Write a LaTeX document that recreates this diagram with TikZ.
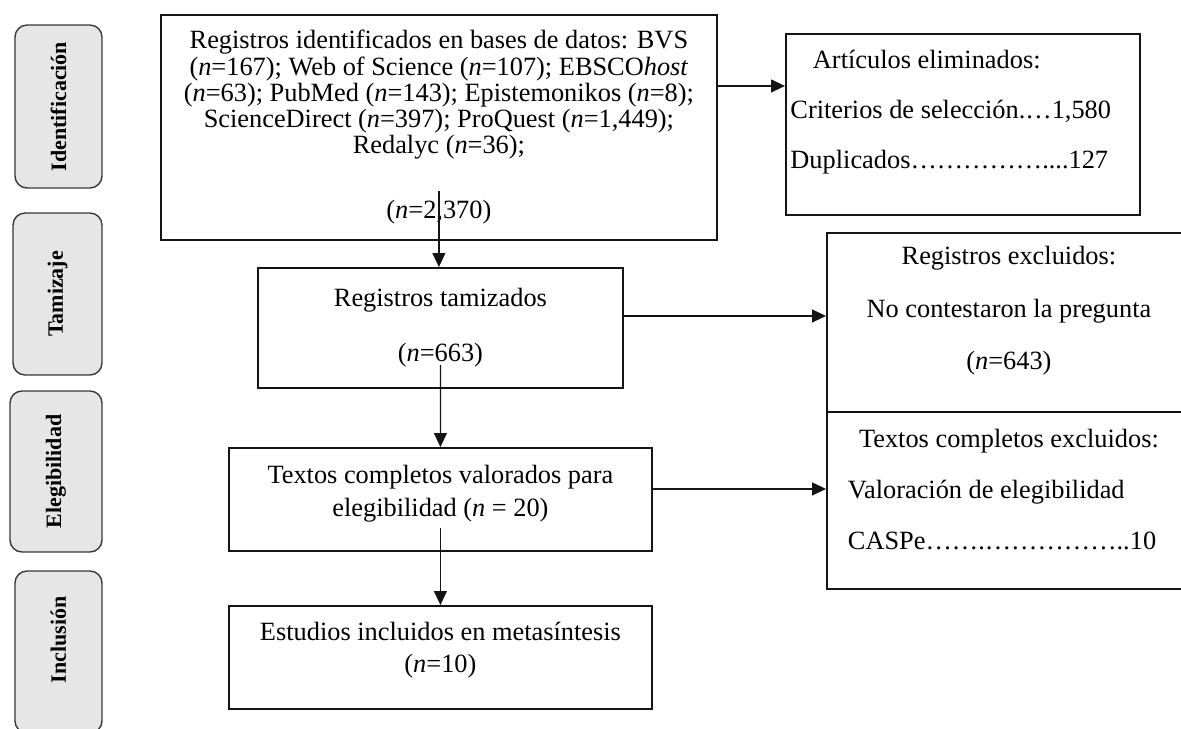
\documentclass[tikz,border=0pt]{standalone}
\usepackage{fontspec}
\setmainfont{Liberation Serif}
\usetikzlibrary{arrows.meta}
\definecolor{stagefill}{RGB}{230,230,230}
\definecolor{stageline}{RGB}{55,55,55}
\definecolor{boxline}{RGB}{20,20,20}

\newcommand{\nn}{\textit{n}}
\newcommand{\padlow}[1]{\rule[-#1]{0pt}{#1}}
\newcommand{\natsp}{\spaceskip=0pt\xspaceskip=0pt\relax}

\begin{document}
\begin{tikzpicture}[x=0.02cm,y=-0.02cm,>={Triangle[length=0.28cm,width=0.26cm]},
    flowbox/.style={draw=boxline,line width=1.1pt,anchor=north west,inner sep=0pt,
      align=center,font=\fontsize{15pt}{14.9pt}\selectfont},
    stagebox/.style={draw=stageline,fill=stagefill,line width=0.8pt,rounded corners=0.24cm,
      anchor=center,inner sep=0pt,rotate=90,font=\fontsize{12.5pt}{12.5pt}\selectfont\bfseries},
    flowline/.style={draw=boxline,line width=0.7pt,->}]
  \useasboundingbox (0,0) rectangle (1181,728);
  \clip (0,0) rectangle (1181,728);

  % --- Stage labels (left column) ---
  \node[stagebox,minimum width=3.26cm,minimum height=1.74cm] (stIdent) at (58.5,106.5) {Identificación};
  \node[stagebox,minimum width=3.24cm,minimum height=1.78cm] (stScreen) at (57.5,294) {Tamizaje};
  \node[stagebox,minimum width=3.22cm,minimum height=1.84cm] (stElig) at (56,471.5) {Elegibilidad};
  \node[stagebox,minimum width=3.24cm,minimum height=1.74cm] (stIncl) at (58.5,652) {\hspace*{0.48cm}Inclusión};

  % --- Main column ---
  \node[flowbox,minimum width=11.12cm,minimum height=4.5cm] (ident) at (160,14)
    {Registros identificados en bases de datos: BVS\\
     (\nn=167); Web of Science (\nn=107); EBSCO\textit{host}\\
     (\nn=63); PubMed (\nn=143); Epistemonikos (\nn=8);\\
     ScienceDirect (\nn=397); ProQuest (\nn=1,449);\\
     Redalyc (\nn=36);\\[0.78cm]
     (\nn=2,370)};

  \node[flowbox,minimum width=7.3cm,minimum height=2.4cm] (screened) at (257,267)
    {Registros tamizados\\[0.574cm]
     (\nn=663)};

  \node[flowbox,minimum width=8.46cm,minimum height=2.06cm] (fulltext) at (228,447)
    {Textos completos valorados para\\[0.134cm]
     elegibilidad (\nn{} = 20)\padlow{0.36cm}};

  \node[flowbox,minimum width=8.46cm,minimum height=2.06cm] (included) at (228,605)
    {Estudios incluidos en metasíntesis\\[0.114cm]
     (\nn=10)\padlow{0.4cm}};

  % --- Exclusion column ---
  \node[flowbox,minimum width=7.08cm,minimum height=3.62cm,align=left,
        text width=6.9cm] (removed) at (785,33)
    {\natsp\hspace*{0.45cm}Artículos eliminados:\\[0.474cm]
     Criterios de selección.…1,580\\[0.474cm]
     Duplicados……………....127\padlow{0.6cm}};

  \node[flowbox,minimum width=7.28cm,minimum height=3.58cm] (excluded) at (826,232)
    {Registros excluidos:\\[0.534cm]
     No contestaron la pregunta\\[0.534cm]
     (\nn=643)\padlow{0.58cm}};

  \node[flowbox,minimum width=7.28cm,minimum height=3.54cm,align=left,
        text width=6.44cm] (ftexcl) at (826,411)
    {\natsp\hfil Textos completos excluidos:\hfil\\[0.5cm]
     Valoración de elegibilidad\\[0.5cm]
     CASPe…….……………..10\padlow{0.44cm}};

  % --- Connectors ---
  \draw[flowline] ([yshift=1cm]ident.south) -- (ident.south |- screened.north);
  \draw[flowline] ([yshift=0.48cm]screened.south) -- (fulltext.north);
  \draw[flowline] ([yshift=0.48cm]fulltext.south) -- (included.north);

  \draw[flowline] ([yshift=0.83cm]ident.east) -- ([yshift=0.83cm]ident.east -| removed.west);
  \draw[flowline] ([yshift=0.24cm]screened.east) -- ([yshift=0.24cm]screened.east -| excluded.west);
  \draw[flowline] ([yshift=0.21cm]fulltext.east) -- ([yshift=0.21cm]fulltext.east -| ftexcl.west);

\end{tikzpicture}
\end{document}
